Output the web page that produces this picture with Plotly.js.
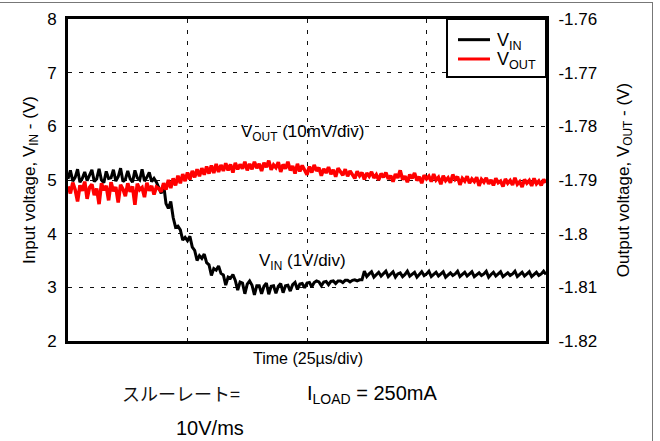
<!DOCTYPE html>
<html>
<head>
<meta charset="utf-8">
<script src="https://cdn.plot.ly/plotly-3.0.1.min.js"></script>
<style>
  html, body { margin: 0; padding: 0; background: #fff; }
  #wrap { position: relative; width: 660px; height: 441px; }
  #chart { width: 660px; height: 441px; }
  #frame { position: absolute; left: 0; top: 2px; width: 652px; height: 439px;
           border-top: 1px solid #777; border-right: 1px solid #777; pointer-events: none; }
</style>
</head>
<body>
<div id="wrap"><div id="chart"></div><div id="frame"></div></div>
<script>
// Sampling of the scope record (µs)
const timeStart = 0;
const timeStep = 0.5;

// Input voltage V_IN (V), samples from t = 0 to 100 µs
const vinValues = [
  5.02,5.18,4.98,5.05,5.20,4.96,5.03,5.15,4.99,5.08,
  5.19,4.97,5.02,5.21,5.00,4.95,5.16,5.03,5.04,5.19,
  4.98,5.06,5.22,4.97,5.01,5.17,5.02,4.96,5.18,5.04,
  5.00,5.20,4.98,5.05,5.14,4.97,5.03,4.96,
  4.85,4.75,4.92,4.56,4.47,4.60,4.30,4.12,4.14,4.07,
  3.88,3.93,3.87,3.95,3.75,3.69,3.50,3.59,3.54,3.62,
  3.46,3.42,3.22,3.35,3.32,3.40,3.26,3.23,3.04,3.19,
  3.17,3.24,3.13,2.95,3.10,3.08,2.88,3.06,3.12,
  3.04,2.86,3.03,3.03,2.88,3.02,3.08,2.87,3.02,3.03,
  2.89,3.02,3.07,2.90,3.03,3.04,2.93,3.05,3.09,2.96,
  3.06,3.07,2.99,3.08,3.09,3.01,3.09,3.12,3.10,3.03,
  3.10,3.11,3.05,3.11,3.12,3.07,3.12,3.12,3.09,3.13,
  3.13,3.10,3.13,3.14,3.12,3.14,3.14,
  3.30,3.20,3.25,3.29,3.19,3.24,3.28,3.21,3.25,3.30,
  3.20,3.24,3.29,3.19,3.25,3.27,3.20,3.24,3.30,3.21,
  3.25,3.28,3.19,3.24,3.29,3.22,3.25,3.30,3.20,3.24,
  3.28,3.21,3.25,3.29,3.19,3.24,3.27,3.22,3.25,3.30,
  3.20,3.24,3.28,3.21,3.25,3.29,3.20,3.24,3.27,3.22,
  3.25,3.30,3.19,3.24,3.28,3.21,3.25,3.29,3.20,3.24,
  3.27,3.22,3.25,3.30,3.20,3.24,3.28,3.21,3.25,3.29,
  3.20,3.24,3.28,3.22,3.25,3.30,3.24
];

// Output voltage V_OUT (V), samples from t = 0 to 100 µs
const voutValues = [
  -1.7912,-1.7925,-1.7905,-1.7918,-1.7940,-1.7910,-1.7920,-1.7903,-1.7935,-1.7914,
  -1.7908,-1.7928,-1.7916,-1.7945,-1.7906,-1.7919,-1.7911,-1.7938,-1.7904,-1.7921,
  -1.7913,-1.7942,-1.7909,-1.7917,-1.7930,-1.7906,-1.7922,-1.7912,-1.7946,-1.7907,
  -1.7918,-1.7914,-1.7932,-1.7905,-1.7920,-1.7911,-1.7927,-1.7913,-1.7916,
  -1.7922,-1.7906,-1.7918,-1.7900,-1.7915,-1.7897,-1.7910,-1.7892,-1.7906,-1.7889,
  -1.7902,-1.7886,-1.7899,-1.7883,-1.7895,-1.7880,-1.7893,-1.7878,-1.7890,-1.7875,
  -1.7888,-1.7873,-1.7887,-1.7870,-1.7885,-1.7872,-1.7883,-1.7869,-1.7882,-1.7871,
  -1.7886,-1.7868,-1.7880,-1.7871,-1.7879,-1.7866,-1.7882,-1.7870,
  -1.7880,-1.7866,-1.7878,-1.7870,-1.7883,-1.7868,-1.7876,-1.7864,-1.7881,-1.7872,
  -1.7877,-1.7867,-1.7885,-1.7871,-1.7879,-1.7866,-1.7882,-1.7874,-1.7888,-1.7870,
  -1.7884,-1.7873,-1.7880,-1.7890,-1.7875,-1.7886,-1.7872,-1.7883,-1.7877,-1.7892,
  -1.7879,-1.7887,-1.7876,-1.7889,-1.7881,-1.7894,-1.7878,-1.7886,-1.7891,-1.7880,
  -1.7893,-1.7883,-1.7889,-1.7897,-1.7884,-1.7892,-1.7886,-1.7899,-1.7887,-1.7893,
  -1.7885,-1.7896,-1.7890,-1.7900,-1.7888,-1.7895,-1.7886,-1.7898,-1.7892,-1.7903,
  -1.7889,-1.7896,-1.7882,-1.7899,-1.7893,-1.7904,-1.7890,-1.7897,-1.7887,-1.7901,
  -1.7894,-1.7906,-1.7891,-1.7898,-1.7893,-1.7903,-1.7889,-1.7900,-1.7895,-1.7908,
  -1.7892,-1.7901,-1.7896,-1.7905,-1.7890,-1.7899,-1.7894,-1.7909,-1.7897,-1.7902,
  -1.7893,-1.7906,-1.7898,-1.7903,-1.7895,-1.7911,-1.7899,-1.7904,-1.7896,-1.7907,
  -1.7900,-1.7910,-1.7897,-1.7905,-1.7902,-1.7912,-1.7898,-1.7906,-1.7901,-1.7909,
  -1.7896,-1.7908,-1.7903,-1.7913,-1.7899,-1.7906,-1.7901,-1.7911,-1.7897,-1.7907,
  -1.7902,-1.7910,-1.7899,-1.7905
];

// Axes
const timeGrid = [0, 25, 50, 75, 100];
const leftTicks = [2, 3, 4, 5, 6, 7, 8];
const rightTicks = [-1.82, -1.81, -1.80, -1.79, -1.78, -1.77, -1.76];
const rightTickText = ['-1.82', '-1.81', '-1.8', '-1.79', '-1.78', '-1.77', '-1.76'];

// Texts
const seriesNames = ['V<sub>IN</sub>', 'V<sub>OUT</sub>'];
const seriesColors = ['#000000', '#ff0000'];
const labelVout = 'V<sub>OUT</sub> (10mV/div)';
const labelVin = 'V<sub>IN</sub> (1V/div)';
const xTitle = 'Time (25µs/div)';
const slewLabel = 'スルーレート=';
const slewValue = '10V/ms';
const loadLabel = 'I<sub>LOAD</sub> = 250mA';

const gridDash = '4px,7px';
const FONT = 'Liberation Sans, Arial, sans-serif';

const traces = [
  { type: 'scatter', mode: 'lines', name: seriesNames[0], x0: timeStart, dx: timeStep,
    y: vinValues, yaxis: 'y', line: { color: seriesColors[0], width: 3 } },
  { type: 'scatter', mode: 'lines', name: seriesNames[1], x0: timeStart, dx: timeStep,
    y: voutValues, yaxis: 'y2', line: { color: seriesColors[1], width: 3.5 } }
];

// Hand-built legend box (paper coordinates of the plot area)
const legendBox = { x0: 0.7929, x1: 1.0, y0: 0.8199, y1: 1.0 };
const legendRows = [0.9358, 0.8758];
const legendLineX = [0.8159, 0.8828];
const legendTextX = 0.8935;

const shapes = [
  { type: 'rect', xref: 'paper', yref: 'paper', x0: legendBox.x0, x1: legendBox.x1,
    y0: legendBox.y0, y1: legendBox.y1, line: { color: '#000', width: 2 }, fillcolor: '#fff',
    layer: 'above' }
];
const legendAnn = [];
seriesNames.forEach((nm, i) => {
  shapes.push({ type: 'line', xref: 'paper', yref: 'paper', x0: legendLineX[0], x1: legendLineX[1],
    y0: legendRows[i], y1: legendRows[i], line: { color: seriesColors[i], width: 3 }, layer: 'above' });
  legendAnn.push({ xref: 'paper', yref: 'paper', x: legendTextX, y: legendRows[i] - 0.006,
    xanchor: 'left', yanchor: 'middle', text: nm, showarrow: false, font: { size: 18 } });
});

const layout = {
  width: 660, height: 441,
  margin: { l: 68, r: 114, t: 19, b: 100, pad: 0 },
  paper_bgcolor: '#ffffff', plot_bgcolor: '#ffffff',
  font: { family: FONT, size: 17, color: '#000' },
  showlegend: false,
  xaxis: { range: [0, 100], tickvals: timeGrid, showticklabels: false, ticks: '',
           showgrid: true, gridcolor: '#111', gridwidth: 1, griddash: gridDash,
           showline: true, linecolor: '#000', linewidth: 3, mirror: true, zeroline: false },
  yaxis: { range: [2, 8], tickvals: leftTicks, ticks: 'outside', ticklen: 5,
           tickcolor: 'rgba(0,0,0,0)', showgrid: true, gridcolor: '#111', gridwidth: 1,
           griddash: gridDash, showline: true, linecolor: '#000', linewidth: 3, mirror: true,
           zeroline: false, tickfont: { size: 17 },
           title: { text: 'Input voltage, V<sub>IN</sub> - (V)', font: { size: 17 }, standoff: 8 } },
  yaxis2: { range: [-1.82, -1.76], overlaying: 'y', side: 'right', tickvals: rightTicks,
            ticktext: rightTickText, ticks: 'outside', ticklen: 8, tickcolor: 'rgba(0,0,0,0)',
            showgrid: false, zeroline: false, showline: false, tickfont: { size: 17 },
            title: { text: 'Output voltage, V<sub>OUT</sub> - (V)', font: { size: 17 }, standoff: 20 } },
  shapes: shapes,
  annotations: legendAnn.concat([
    { xref: 'x', yref: 'y', x: 49, y: 5.88, text: labelVout, showarrow: false, font: { size: 17 },
      xanchor: 'center' },
    { xref: 'x', yref: 'y', x: 49, y: 3.47, text: labelVin, showarrow: false, font: { size: 17 },
      xanchor: 'center' },
    { xref: 'paper', yref: 'paper', x: 0.502, y: -0.053, text: xTitle, showarrow: false,
      font: { size: 16 }, xanchor: 'center', yanchor: 'middle' },
    { xref: 'paper', yref: 'paper', x: 0.236, y: -0.161, text: slewLabel, showarrow: false,
      font: { size: 18, family: 'Noto Sans CJK JP', color: '#111' }, xanchor: 'center', yanchor: 'middle' },
    { xref: 'paper', yref: 'paper', x: 0.636, y: -0.165, text: loadLabel, showarrow: false,
      font: { size: 20 }, xanchor: 'center', yanchor: 'middle' },
    { xref: 'paper', yref: 'paper', x: 0.297, y: -0.270, text: slewValue, showarrow: false,
      font: { size: 20 }, xanchor: 'center', yanchor: 'middle' }
  ])
};

Plotly.newPlot('chart', traces, layout, { displayModeBar: false, staticPlot: true });
</script>
</body>
</html>
